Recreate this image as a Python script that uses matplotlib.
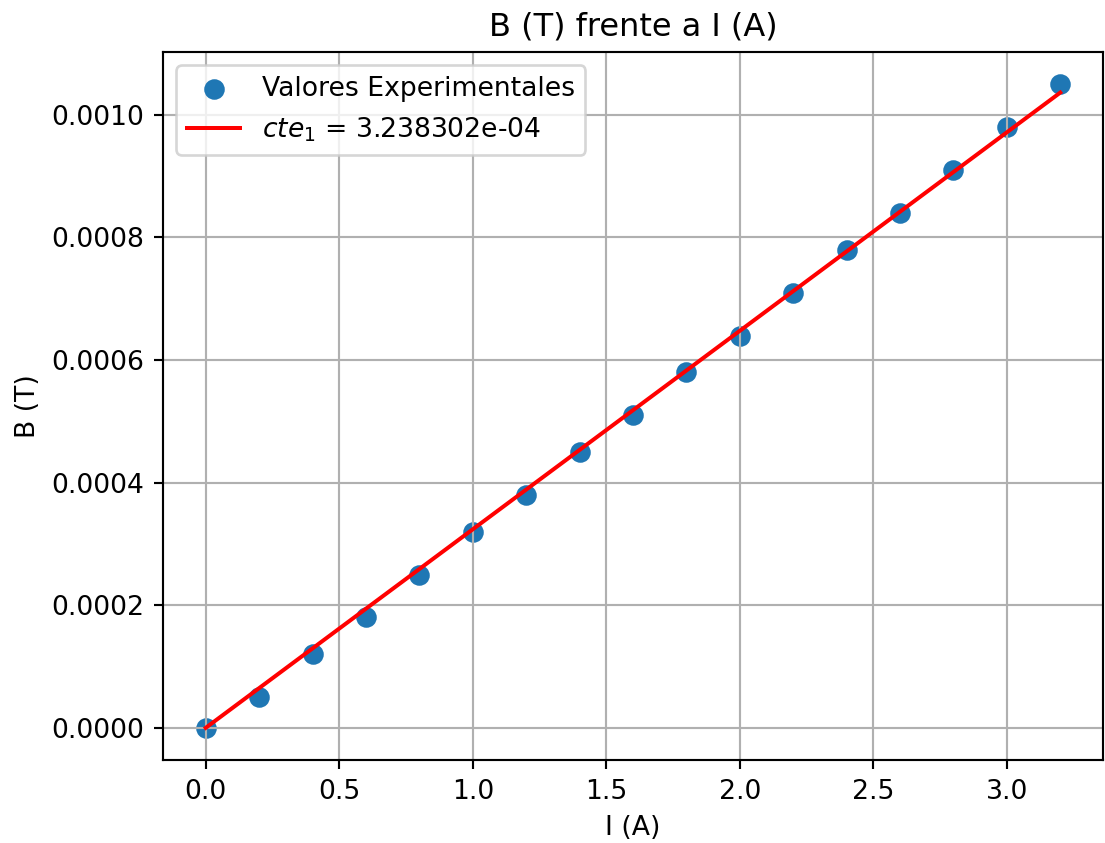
import matplotlib
matplotlib.use("Agg")
import matplotlib.pyplot as plt
import numpy as np

# datos experimentales
I = [0.0, 0.2, 0.4, 0.6, 0.8, 1.0, 1.2, 1.4, 1.6, 1.8, 2.0, 2.2, 2.4, 2.6, 2.8, 3.0, 3.2]
B = [0.0, 0.00005, 0.00012, 0.00018, 0.00025, 0.00032, 0.00038, 0.00045, 0.00051,
     0.00058, 0.00064, 0.00071, 0.00078, 0.00084, 0.00091, 0.00098, 0.00105]
cte1 = 3.238302e-04

I = np.array(I)
B = np.array(B)

dpi = 192
fig = plt.figure(figsize=(1105/dpi, 843/dpi), dpi=dpi)
ax = fig.add_subplot(111)
fig.subplots_adjust(left=163/1105, right=1103/1105, top=1-52/843, bottom=1-760/843)

ax.scatter(I, B, s=45, label='Valores Experimentales')
ax.plot(I, cte1*I, 'r', label=r'$cte_1$ = %e' % cte1)

ax.set_title('B (T) frente a I (A)')
ax.set_xlabel('I (A)')
ax.set_ylabel('B (T)')
ax.grid()
ax.legend()
fig.savefig('out.png', dpi=dpi)
